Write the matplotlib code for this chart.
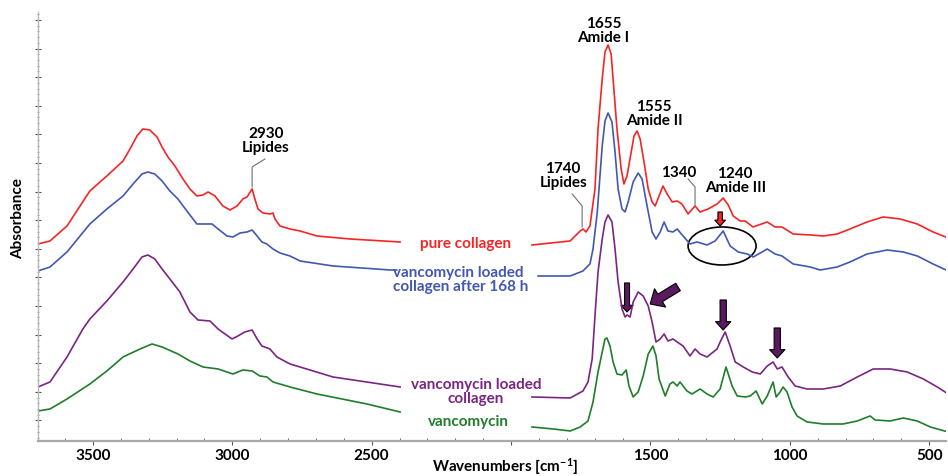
import matplotlib
matplotlib.use('Agg')
import matplotlib.pyplot as plt
import numpy as np
from matplotlib.patches import Ellipse, FancyArrowPatch
from matplotlib.ticker import FixedLocator

plt.rcParams['font.family'] = ['Lato', 'DejaVu Sans']
plt.rcParams['font.weight'] = 'bold'
plt.rcParams['mathtext.fontset'] = 'custom'
plt.rcParams['mathtext.rm'] = 'Lato:bold'
plt.rcParams['mathtext.it'] = 'Lato:bold'
plt.rcParams['mathtext.bf'] = 'Lato:bold'

# FTIR spectra, absorbance in arbitrary units (stacked with offsets)
# high wavenumber region
red_wn_hi = [3697, 3654, 3593, 3511, 3450, 3392, 3367, 3342, 3321, 3296, 3270, 3252, 3231, 3206,
             3177, 3152, 3127, 3105, 3087, 3062, 3034, 3008, 2983, 2962, 2947, 2929, 2919, 2908,
             2890, 2865, 2854, 2847, 2829, 2793, 2757, 2696, 2578, 2398]
red_a_hi = [197, 200, 215, 250, 265, 280, 292, 305, 312, 311, 304, 294, 284, 275,
            262, 252, 245, 246, 249, 245, 235, 231, 235, 242, 244, 252, 242, 232,
            228, 227, 228, 222, 215, 212, 210, 205, 202, 199]

blue_wn_hi = [3697, 3654, 3593, 3511, 3450, 3392, 3356, 3324, 3303, 3278, 3252, 3224, 3195, 3163,
              3127, 3098, 3073, 3051, 3019, 2998, 2972, 2947, 2929, 2911, 2894, 2876, 2854, 2829,
              2793, 2757, 2639, 2434, 2410]
blue_a_hi = [170, 174, 189, 217, 232, 245, 257, 267, 269, 267, 260, 250, 242, 230,
             217, 217, 217, 212, 205, 204, 208, 209, 211, 205, 199, 197, 192, 188,
             185, 180, 175, 171, 171]

purple_wn_hi = [3697, 3654, 3593, 3536, 3511, 3450, 3392, 3356, 3324, 3303, 3278, 3252, 3224, 3188,
                3152, 3123, 3080, 3051, 3001, 2980, 2955, 2929, 2911, 2894, 2865, 2840, 2793, 2757,
                2639, 2398]
purple_a_hi = [54, 59, 84, 112, 122, 140, 159, 172, 184, 186, 182, 172, 162, 149,
               129, 121, 120, 112, 102, 105, 109, 111, 102, 95, 92, 84, 77, 74,
               64, 54]

green_wn_hi = [3697, 3654, 3593, 3511, 3450, 3392, 3331, 3288, 3252, 3195, 3152, 3105, 3051, 2998,
               2962, 2929, 2901, 2876, 2854, 2793, 2696, 2517, 2398]
green_a_hi = [30, 32, 42, 57, 70, 84, 92, 97, 94, 87, 80, 74, 72, 67,
              71, 70, 65, 64, 59, 54, 47, 37, 29]

# fingerprint region
red_wn_lo = [1925, 1788, 1752, 1742, 1731, 1717, 1699, 1688, 1673, 1663, 1652, 1641, 1634, 1620,
             1605, 1595, 1584, 1569, 1559, 1548, 1537, 1523, 1508, 1494, 1483, 1469, 1455, 1440,
             1422, 1404, 1387, 1365, 1340, 1322, 1293, 1261, 1239, 1221, 1203, 1178, 1160, 1132,
             1081, 1053, 1028, 988, 927, 880, 830, 784, 723, 665, 604, 543, 486, 432]
red_a_lo = [196, 200, 210, 212, 209, 215, 252, 312, 362, 389, 396, 387, 362, 312,
            272, 257, 265, 289, 305, 310, 302, 279, 252, 239, 235, 245, 255, 247,
            239, 240, 237, 227, 235, 229, 232, 237, 243, 236, 225, 220, 220, 214,
            219, 214, 214, 207, 206, 205, 207, 212, 219, 224, 222, 217, 209, 203]

blue_wn_lo = [1903, 1788, 1742, 1717, 1706, 1691, 1673, 1663, 1652, 1638, 1627, 1616, 1602, 1591,
              1580, 1562, 1544, 1530, 1512, 1494, 1480, 1465, 1451, 1437, 1419, 1404, 1383, 1358,
              1333, 1297, 1268, 1239, 1214, 1185, 1153, 1131, 1081, 1053, 1028, 988, 927, 891,
              830, 784, 723, 651, 593, 543, 486, 432]
blue_a_lo = [165, 165, 170, 177, 192, 228, 295, 320, 328, 319, 289, 252, 232, 229,
             239, 259, 268, 262, 235, 209, 202, 209, 219, 210, 209, 212, 205, 197,
             199, 196, 200, 210, 195, 189, 187, 184, 192, 187, 185, 177, 174, 171,
             174, 179, 187, 191, 189, 185, 177, 170]

purple_wn_lo = [1925, 1788, 1742, 1724, 1709, 1699, 1688, 1673, 1663, 1652, 1638, 1627, 1616, 1602,
                1591, 1584, 1573, 1562, 1544, 1526, 1508, 1494, 1480, 1465, 1451, 1437, 1419, 1404,
                1383, 1358, 1340, 1322, 1297, 1261, 1250, 1232, 1214, 1196, 1167, 1135, 1106, 1081,
                1060, 1045, 1028, 1006, 981, 938, 880, 819, 758, 701, 640, 579, 521, 471, 432]
purple_a_lo = [44, 43, 50, 59, 82, 125, 169, 202, 219, 226, 219, 192, 159, 132,
               124, 126, 124, 139, 149, 145, 135, 119, 99, 102, 107, 100, 102, 99,
               95, 85, 92, 87, 84, 92, 99, 109, 95, 79, 74, 69, 67, 75,
               79, 72, 74, 64, 55, 52, 52, 55, 64, 72, 72, 69, 62, 54, 47]

green_wn_lo = [1925, 1849, 1788, 1752, 1724, 1706, 1688, 1673, 1663, 1656, 1645, 1634, 1620, 1602,
               1587, 1577, 1562, 1544, 1526, 1508, 1491, 1480, 1469, 1447, 1430, 1419, 1404, 1394,
               1369, 1351, 1322, 1297, 1275, 1250, 1229, 1207, 1189, 1160, 1142, 1121, 1099, 1081,
               1060, 1049, 1035, 1024, 1010, 992, 974, 938, 880, 809, 758, 712, 694, 640,
               593, 543, 496, 432]
green_a_lo = [14, 12, 10, 14, 20, 39, 69, 89, 102, 103, 95, 79, 67, 66,
              71, 55, 44, 49, 65, 87, 95, 85, 62, 45, 57, 59, 55, 59,
              50, 47, 52, 47, 44, 52, 74, 55, 45, 44, 45, 50, 37, 45,
              59, 44, 49, 54, 49, 34, 25, 19, 17, 17, 20, 25, 21, 20,
              23, 20, 14, 9]

series = [
    (red_wn_hi, red_a_hi, red_wn_lo, red_a_lo, '#f52525'),
    (blue_wn_hi, blue_a_hi, blue_wn_lo, blue_a_lo, '#4257b2'),
    (purple_wn_hi, purple_a_hi, purple_wn_lo, purple_a_lo, '#7b2582'),
    (green_wn_hi, green_a_hi, green_wn_lo, green_a_lo, '#1f7d2c'),
]

fig = plt.figure(figsize=(9.48, 4.77), dpi=100)
ax = fig.add_axes([0.0401, 0.0734, 0.958, 0.8994])

for wn_hi, a_hi, wn_lo, a_lo, col in series:
    ax.plot(wn_hi, a_hi, color=col, lw=1.2)
    ax.plot(wn_lo, a_lo, color=col, lw=1.2)

ax.set_xlim(3697, 439)
ax.set_ylim(0, 429)

# axes styling
for s in ['top', 'right']:
    ax.spines[s].set_visible(False)
ax.spines['bottom'].set_color('#a8a8a8')
ax.spines['bottom'].set_linewidth(1.6)
ax.spines['left'].set_color('#b8b8b8')
ax.spines['left'].set_linewidth(1.0)

ax.xaxis.set_major_locator(FixedLocator([3500, 3000, 2500, 2000, 1500, 1000, 500]))
ax.set_xticklabels(['3500', '3000', '2500', '', '1500', '1000', '500'])
ax.xaxis.set_minor_locator(FixedLocator(np.arange(400, 3700, 100)))
ax.tick_params(axis='x', which='major', direction='out', length=3, color='#555555',
               labelsize=11, pad=2)
ax.tick_params(axis='x', which='minor', direction='in', length=2, color='#555555')

ax.yaxis.set_major_locator(FixedLocator(np.arange(20.6, 429, 28.6)))
ax.yaxis.set_minor_locator(FixedLocator(np.arange(3.4, 429, 5.72)))
ax.tick_params(axis='y', which='major', direction='inout', length=4, color='#555555',
               labelleft=False)
ax.tick_params(axis='y', which='minor', direction='inout', length=2, color='#777777')

ax.text(-0.022, 0.52, 'Absorbance', transform=ax.transAxes, rotation=90,
        ha='center', va='center', fontsize=11, fontweight='bold')
ax.text(0.514, -0.058, 'Wavenumbers [cm$^{-1}$]', transform=ax.transAxes,
        ha='center', va='center', fontsize=11, fontweight='bold')

# peak annotations
ann = dict(ha='center', va='center', fontsize=11, fontweight='bold', linespacing=0.95)
ax.text(2879, 301, '2930\nLipides', **ann)
ax.text(1669, 411, '1655\nAmide I', **ann)
ax.text(1487, 328, '1555\nAmide II', **ann)
ax.text(1813, 266, '1740\nLipides', **ann)
ax.text(1397, 269, '1340', **ann)
ax.text(1196, 261, '1240\nAmide III', **ann)

lead = dict(color='#707070', lw=0.8)
ax.plot([2883, 2929, 2929], [282, 274, 254], **lead)
ax.plot([1781, 1745, 1745], [247, 235, 214], **lead)
ax.plot([1365, 1340, 1340], [262, 254, 236], **lead)

# curve labels
lab = dict(fontsize=11, fontweight='bold', linespacing=0.95)
ax.text(2165, 198, 'pure collagen', color='#f52525', ha='center', va='center', **lab)
ax.text(2425, 162, 'vancomycin loaded\ncollagen after 168 h', color='#4257b2',
        ha='left', va='center', multialignment='left', **lab)
ax.text(2126, 50, 'vancomycin loaded\ncollagen', color='#7b2582',
        ha='center', va='center', **lab)
ax.text(2154, 20, 'vancomycin', color='#1f7d2c', ha='center', va='center', **lab)

# highlight of the amide III region
ax.add_patch(Ellipse((1243, 195), 244, 38, fill=False, ec='black', lw=1.2))

def arrow(p0, p1, fc, scale):
    ax.add_patch(FancyArrowPatch(p0, p1, arrowstyle='simple,head_length=0.6,head_width=1.1,tail_width=0.45',
                                 mutation_scale=scale, fc=fc, ec='black', lw=0.8,
                                 shrinkA=0, shrinkB=0))

arrow((1250, 229), (1250, 215), '#f52525', 7)
arrow((1584, 158), (1584, 129), '#5a1a5e', 8)
arrow((1401, 154), (1501, 137), '#5a1a5e', 14)
arrow((1239, 141), (1239, 111), '#5a1a5e', 10)
arrow((1045, 113), (1045, 83), '#5a1a5e', 10)

fig.savefig('out.png', dpi=100)
